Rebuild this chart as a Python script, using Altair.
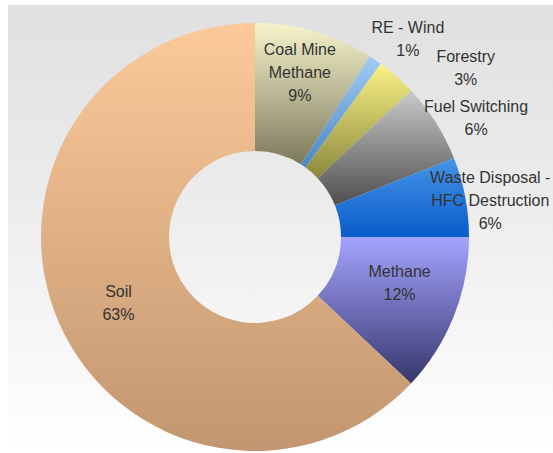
import altair as alt
import pandas as pd

categories = ["Coal Mine Methane", "RE - Wind", "Forestry", "Fuel Switching",
              "Waste Disposal - HFC Destruction", "Methane", "Soil"]
display_labels = ["Coal Mine\nMethane", "RE - Wind", "Forestry", "Fuel Switching",
                  "Waste Disposal -\nHFC Destruction", "Methane", "Soil"]
shares = [9, 1, 3, 6, 6, 12, 63]

df = pd.DataFrame({
    "idx": list(range(len(categories))),
    "category": categories,
    "label": display_labels,
    "share": shares,
})

# styling (not data)
grad = {
    "Coal Mine Methane": ("#f6f4cc", "#7c7a5c"),
    "RE - Wind": ("#a2ccf2", "#4a86c6"),
    "Forestry": ("#faf284", "#8a883e"),
    "Fuel Switching": ("#cacaca", "#4e4e4e"),
    "Waste Disposal - HFC Destruction": ("#4494e6", "#0a5cca"),
    "Methane": ("#a4a4ff", "#36366c"),
    "Soil": ("#fcca9a", "#c29670"),
}
# label radius (px) and angular offset (rad)
label_pos = {
    "Coal Mine Methane": (170, -0.016),
    "RE - Wind": (250, 0.061),
    "Forestry": (270, 0.173),
    "Fuel Switching": (251, 0.072),
    "Waste Disposal - HFC Destruction": (238, 0.037),
    "Methane": (152, -0.063),
    "Soil": (152, -0.047),
}
LH = 23

W, H = 430, 430
L, T = 40, 22
R, B = 553 - L - W, 453 - T - H

theta_scale = alt.Scale(domain=[0, 100])

base = alt.Chart(df).transform_window(
    cum="sum(share)", sort=[alt.SortField("idx")]
).transform_calculate(
    start="datum.cum - datum.share",
    mid="datum.cum - datum.share / 2",
    text="datum.label + '\\n' + datum.share + '%'",
)

bg = alt.Chart(alt.Data(values=[{"a": 1}])).mark_rect(
    fill=alt.Gradient(
        gradient="linear",
        stops=[alt.GradientStop(color="#e0e0e0", offset=0),
               alt.GradientStop(color="#ebebeb", offset=0.4),
               alt.GradientStop(color="#ffffff", offset=1)],
        x1=0, y1=0, x2=0, y2=1,
    )
).encode(
    x=alt.value(8 - L), x2=alt.value(W + R),
    y=alt.value(5 - T), y2=alt.value(H + B),
)

layers = [bg]
for cat in categories:
    top, bot = grad[cat]
    layers.append(
        base.transform_filter(alt.datum.category == cat).mark_arc(
            innerRadius=86, outerRadius=214,
            fill=alt.Gradient(
                gradient="linear",
                stops=[alt.GradientStop(color=top, offset=0),
                       alt.GradientStop(color=bot, offset=1)],
                x1=0, y1=0, x2=0, y2=1,
            ),
        ).encode(
            theta=alt.Theta("start:Q", scale=theta_scale),
            theta2="cum:Q",
        )
    )

for cat, lab in zip(categories, display_labels):
    r, off = label_pos[cat]
    n_lines = lab.count("\n") + 2
    layers.append(
        base.transform_filter(alt.datum.category == cat).mark_text(
            font="Liberation Sans", fontSize=16, color="#333333",
            lineBreak="\n", lineHeight=LH, align="center", baseline="middle",
            radius=r, thetaOffset=off, dy=-(n_lines - 1) * LH / 2,
        ).encode(
            theta=alt.Theta("mid:Q", scale=theta_scale),
            text="text:N",
        )
    )

chart = alt.layer(*layers).properties(
    width=W, height=H,
    padding={"left": L, "top": T, "right": R, "bottom": B},
    autosize=alt.AutoSizeParams(type="none"),
    background="white",
).configure_view(stroke=None)

chart.save("out.html", embed_options={"renderer": "svg", "actions": False})
